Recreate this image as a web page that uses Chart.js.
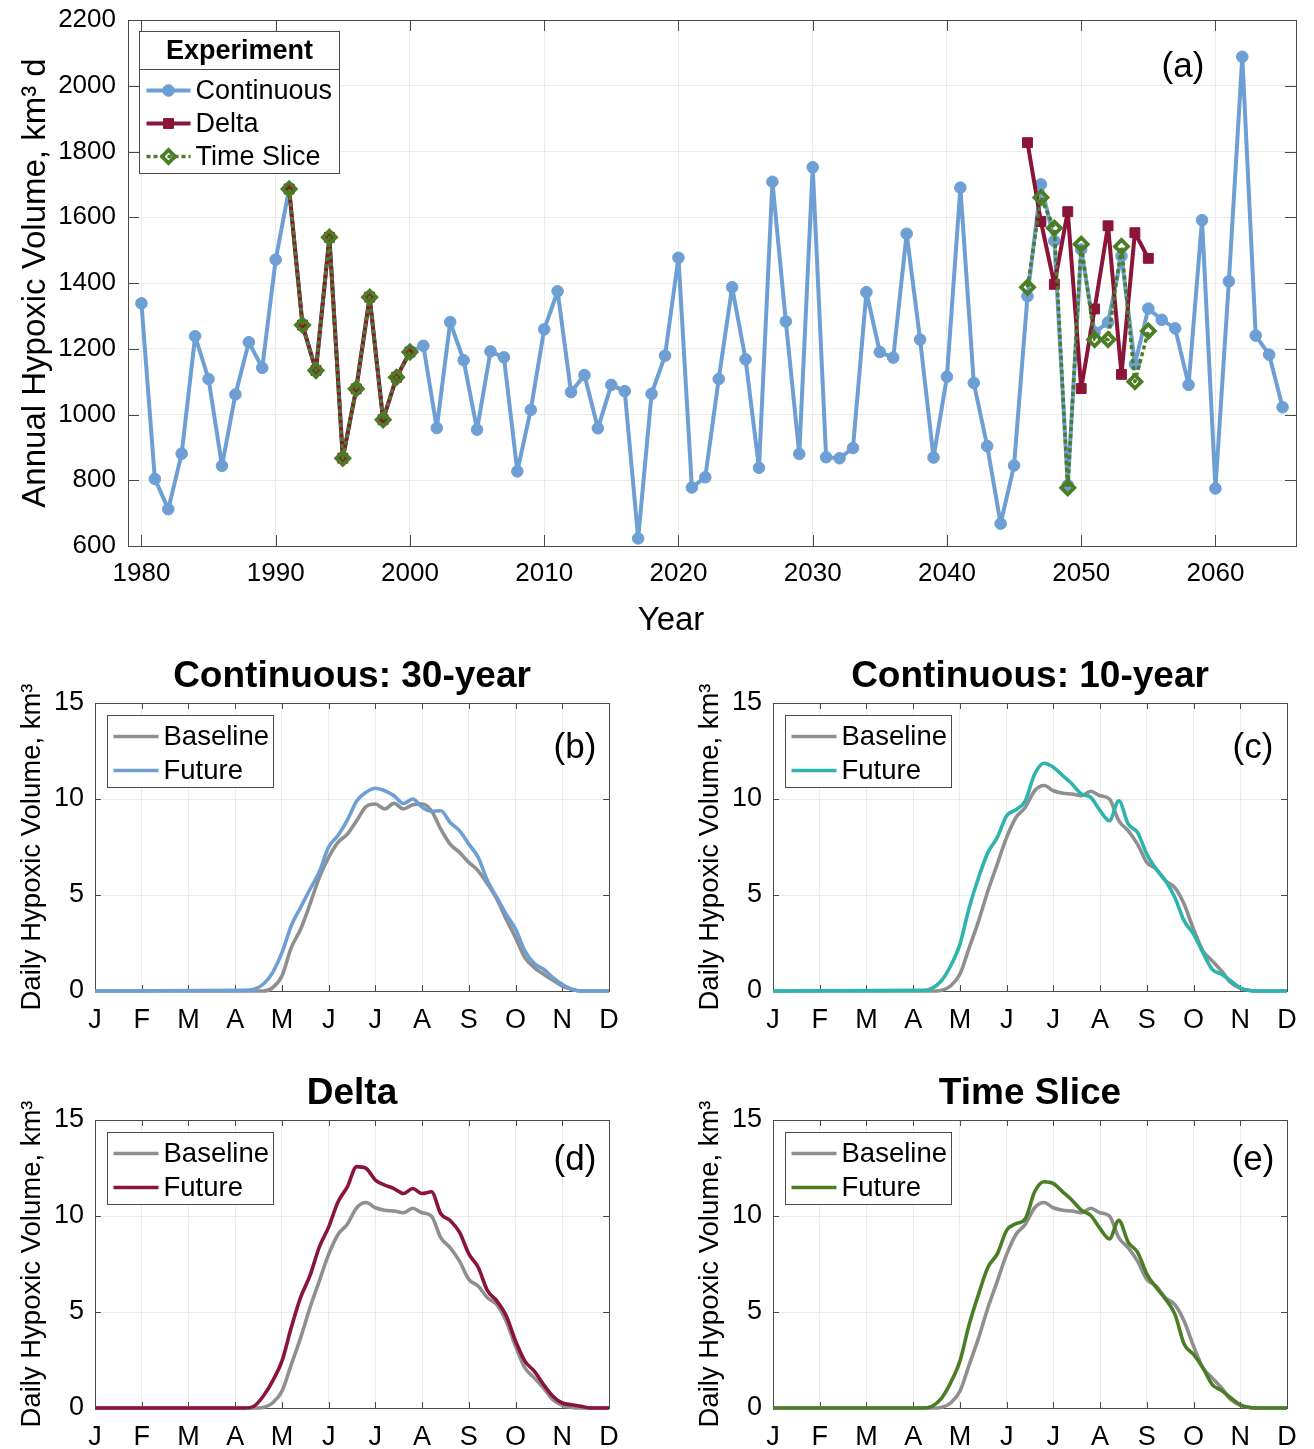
<!DOCTYPE html>
<html>
<head>
<meta charset="utf-8">
<script src="https://cdn.jsdelivr.net/npm/chart.js@4.4.0/dist/chart.umd.min.js"></script>
<style>
  html, body { margin: 0; padding: 0; background: #fff; overflow: hidden; }
  #wrap { position: relative; width: 1314px; height: 1449px; }
  canvas { position: absolute; }
</style>
</head>
<body>
<div id="wrap">
  <canvas id="annual" width="1314" height="640" style="left:0;top:0;width:1314px;height:640px"></canvas>
  <canvas id="panelB" width="657" height="395" style="left:0;top:650px;width:657px;height:395px"></canvas>
  <canvas id="panelC" width="657" height="395" style="left:657px;top:650px;width:657px;height:395px"></canvas>
  <canvas id="panelD" width="657" height="387" style="left:0;top:1062px;width:657px;height:387px"></canvas>
  <canvas id="panelE" width="657" height="387" style="left:657px;top:1062px;width:657px;height:387px"></canvas>
</div>
<script>
// ---- annual series, panel (a) ----
const YEARS = [1980,1981,1982,1983,1984,1985,1986,1987,1988,1989,
  1990,1991,1992,1993,1994,1995,1996,1997,1998,1999,
  2000,2001,2002,2003,2004,2005,2006,2007,2008,2009,
  2010,2011,2012,2013,2014,2015,2016,2017,2018,2019,
  2020,2021,2022,2023,2024,2025,2026,2027,2028,2029,
  2030,2031,2032,2033,2034,2035,2036,2037,2038,2039,
  2040,2041,2042,2043,2044,2045,2046,2047,2048,2049,
  2050,2051,2052,2053,2054,2055,2056,2057,2058,2059,
  2060,2061,2062,2063,2064,2065];
const CONTINUOUS = [1338,804,712,881,1238,1108,844,1061,1220,1142,
  1471,1686,1272,1134,1539,867,1078,1357,984,1113,
  1190,1209,959,1281,1165,954,1192,1174,827,1014,
  1259,1375,1068,1120,958,1090,1071,623,1063,1179,
  1477,778,809,1108,1387,1168,838,1708,1283,880,
  1752,870,867,898,1372,1190,1173,1550,1228,869,
  1115,1690,1096,904,668,845,1360,1700,1528,785,
  1502,1250,1280,1482,1153,1322,1288,1262,1090,1591,
  775,1405,2088,1240,1182,1022];
const EXP_YEARS = [1991,1992,1993,1994,1995,1996,1997,1998,1999,2000,
  2046,2047,2048,2049,2050,2051,2052,2053,2054,2055];
const DELTA = [1686,1272,1134,1539,867,1078,1357,984,1113,1190,
  1827,1587,1396,1617,1079,1321,1574,1122,1553,1475];
const TIME_SLICE = [1686,1272,1134,1539,867,1078,1357,984,1113,1190,
  1387,1660,1567,777,1518,1228,1228,1511,1100,1254];
const YEAR_TICKS = [1980,1990,2000,2010,2020,2030,2040,2050,2060];
const ANNUAL_TICKS = [600,800,1000,1200,1400,1600,1800,2000,2200];

// ---- daily climatologies, panels (b)-(e); x in month units (0 = J ... 11 = D) ----
const MONTH_LABELS = ['J','F','M','A','M','J','J','A','S','O','N','D'];
const MONTH_POS = [0,3.2,3.4,3.6,3.8,4.0,4.2,4.4,4.6,4.8,5.0,5.2,5.4,5.6,5.8,6.0,6.2,6.4,6.6,6.8,
  7.0,7.2,7.4,7.6,7.8,8.0,8.2,8.4,8.6,8.8,9.0,9.2,9.4,9.6,9.8,10.0,10.2,10.4,10.6,11];
const BASE_30YR = [0,0,0,0,0.17,0.78,2.26,3.22,4.52,5.91,6.96,7.74,8.17,8.87,9.6,9.74,9.48,9.77,9.48,9.7,
  9.74,9.39,8.43,7.65,7.22,6.7,6.26,5.57,4.78,3.74,2.78,1.74,1.22,0.87,0.56,0.26,0.09,0,0,0];
const FUT_30YR = [0,0.03,0.09,0.35,0.96,2.0,3.4,4.35,5.3,6.2,7.5,8.1,8.9,9.9,10.35,10.56,10.43,10.17,9.77,10.0,
  9.57,9.36,9.39,8.78,8.35,7.65,6.96,5.74,4.87,4.0,3.22,2.09,1.43,1.13,0.7,0.35,0.09,0,0,0];
const BASE_10YR = [0,0,0,0.03,0.26,0.87,2.26,3.65,5.22,6.61,8.0,9.04,9.57,10.43,10.7,10.43,10.3,10.26,10.17,10.4,
  10.17,10.0,8.87,8.35,7.65,6.7,6.35,5.74,5.39,4.52,3.22,2.09,1.57,1.04,0.43,0.14,0.03,0,0,0];
const FUT_10YR = [0,0.03,0.14,0.52,1.3,2.43,4.35,5.91,7.22,8.0,9.13,9.44,9.91,11.3,11.86,11.65,11.22,10.78,10.26,10.09,
  9.39,8.87,9.91,8.7,8.26,7.13,6.35,5.74,4.87,3.65,2.96,2.0,1.13,0.87,0.52,0.17,0.03,0,0,0];
const FUT_DELTA = [0,0,0.09,0.61,1.4,2.44,4.19,5.76,6.89,8.38,9.42,10.73,11.52,12.57,12.48,11.87,11.61,11.43,11.17,11.43,
  11.17,11.26,10.12,9.77,9.16,8.03,7.33,6.11,5.58,4.8,3.49,2.44,1.92,1.22,0.61,0.26,0.17,0.09,0,0];
const FUT_SLICE = [0,0,0.09,0.49,1.31,2.44,4.36,5.93,7.33,8.03,9.25,9.6,9.86,11.26,11.78,11.69,11.26,10.82,10.3,10.03,
  9.34,8.81,9.77,8.64,8.12,6.98,6.28,5.67,4.89,3.32,2.79,2.09,1.22,0.91,0.52,0.17,0.03,0,0,0];
const DAILY_TICKS = [0,5,10,15];

const FONT = '"Liberation Sans", Arial, Helvetica, sans-serif';
const INK = '#000';
const AXIS = '#4a4a4a';
const GRID = '#ebebeb';
const BLUE = '#6d9fd5', RED = '#8a1538', GREEN = '#4b7d24', TEAL = '#2db4ad', GRAY = '#8f8f8f';

Chart.defaults.font.family = FONT;
Chart.defaults.color = INK;

const pts = (xs, ys) => xs.map((x, i) => ({ x: x, y: ys[i] }));
// break the line where consecutive years are not adjacent
function withGaps(xs, ys) {
  const out = [];
  xs.forEach((x, i) => {
    if (i > 0 && x - xs[i - 1] > 1) out.push({ x: (x + xs[i - 1]) / 2, y: null });
    out.push({ x: x, y: ys[i] });
  });
  return out;
}

// fixed axis sizes so the plot boxes land where the figure has them
function fixY(width) {
  return s => { s.width = width; s.paddingTop = 0; s.paddingBottom = 0; };
}
function fixX(height) {
  return s => { s.height = height; s.paddingLeft = 0; s.paddingRight = 0; };
}

function drawLegend(chart, lg) {
  const { ctx, chartArea: a } = chart;
  const x0 = Math.round(a.left + lg.dx) + 0.5, y0 = Math.round(a.top + lg.dy) + 0.5;
  ctx.fillStyle = '#fff';
  ctx.fillRect(x0, y0, lg.w, lg.h);
  ctx.strokeStyle = AXIS; ctx.lineWidth = 1; ctx.setLineDash([]);
  ctx.strokeRect(x0, y0, lg.w, lg.h);
  ctx.textBaseline = 'middle';
  if (lg.heading) {
    ctx.font = `bold ${lg.size}px ${FONT}`;
    ctx.fillStyle = INK; ctx.textAlign = 'center';
    ctx.fillText(lg.heading, x0 + lg.w / 2, y0 + lg.headH / 2 + 1);
    ctx.beginPath(); ctx.moveTo(x0, y0 + lg.headH); ctx.lineTo(x0 + lg.w, y0 + lg.headH); ctx.stroke();
  }
  chart.data.datasets.forEach((ds, i) => {
    const yy = y0 + lg.firstRow + i * lg.rowStep;
    ctx.save();
    ctx.strokeStyle = ds.borderColor; ctx.lineWidth = ds.borderWidth;
    ctx.setLineDash(ds.borderDash || []);
    ctx.beginPath(); ctx.moveTo(x0 + lg.lineFrom, yy); ctx.lineTo(x0 + lg.lineTo, yy); ctx.stroke();
    ctx.setLineDash([]);
    if (ds.pointRadius > 0) {
      ctx.fillStyle = ds.backgroundColor; ctx.strokeStyle = ds.borderColor;
      ctx.lineWidth = ds.pointBorderWidth || 1;
      Chart.helpers.drawPoint(ctx, { pointStyle: ds.pointStyle, rotation: 0, radius: ds.pointRadius, borderWidth: ds.pointBorderWidth || 1 },
        x0 + (lg.lineFrom + lg.lineTo) / 2, yy);
    }
    ctx.restore();
    ctx.font = `${lg.size}px ${FONT}`; ctx.fillStyle = INK; ctx.textAlign = 'left';
    ctx.fillText(ds.label, x0 + lg.textX, yy + 1);
  });
}

// box with inward ticks, panel title, panel letter and legend
const framePlugin = {
  id: 'frame',
  beforeDatasetsDraw(chart, args, o) {
    const { ctx, chartArea: a } = chart;
    const xs = chart.scales.x, ys = chart.scales.y;
    ctx.save();
    ctx.strokeStyle = AXIS; ctx.lineWidth = 1;
    ctx.beginPath();
    xs.ticks.forEach(t => {
      const p = Math.round(xs.getPixelForValue(t.value)) + 0.5;
      ctx.moveTo(p, a.bottom); ctx.lineTo(p, a.bottom - o.tickLen);
      ctx.moveTo(p, a.top); ctx.lineTo(p, a.top + o.tickLen);
    });
    ys.ticks.forEach(t => {
      const p = Math.round(ys.getPixelForValue(t.value)) + 0.5;
      ctx.moveTo(a.left, p); ctx.lineTo(a.left + o.tickLen, p);
      ctx.moveTo(a.right, p); ctx.lineTo(a.right - o.tickLen, p);
    });
    ctx.stroke();
    ctx.strokeRect(Math.round(a.left) + 0.5, Math.round(a.top) + 0.5, Math.round(a.width), Math.round(a.height));
    ctx.restore();
  },
  afterDraw(chart, args, o) {
    const { ctx, chartArea: a } = chart;
    ctx.save();
    ctx.fillStyle = INK; ctx.textBaseline = 'middle'; ctx.textAlign = 'center';
    if (o.title) {
      ctx.font = `bold ${o.titleSize}px ${FONT}`;
      ctx.fillText(o.title, (a.left + a.right) / 2, a.top - o.titleGap);
    }
    if (o.xTitle) {
      ctx.font = `${o.xTitleSize}px ${FONT}`;
      ctx.fillText(o.xTitle, (a.left + a.right) / 2 + o.xTitleDx, a.bottom + o.xTitleDy);
    }
    if (o.label) {
      ctx.font = `${o.labelSize}px ${FONT}`;
      ctx.fillText(o.label, a.right - o.labelDx, a.top + o.labelDy);
    }
    if (o.legend) drawLegend(chart, o.legend);
    ctx.restore();
  }
};

// ---- (a) annual hypoxic volume ----
new Chart(document.getElementById('annual'), {
  type: 'line',
  data: {
    datasets: [
      { label: 'Continuous', data: pts(YEARS, CONTINUOUS), borderColor: BLUE, backgroundColor: BLUE,
        borderWidth: 4, borderJoinStyle: 'round', pointStyle: 'circle', pointRadius: 5.8, pointBorderWidth: 1, order: 3 },
      { label: 'Delta', data: withGaps(EXP_YEARS, DELTA), borderColor: RED, backgroundColor: RED,
        borderWidth: 4, borderJoinStyle: 'round', pointStyle: 'rect', pointRadius: 7, pointBorderWidth: 1, order: 2 },
      { label: 'Time Slice', data: withGaps(EXP_YEARS, TIME_SLICE), borderColor: GREEN, backgroundColor: 'rgba(255,255,255,0)',
        borderWidth: 3.5, borderDash: [4, 3], borderJoinStyle: 'round', pointStyle: 'rectRot', pointRadius: 6.5, pointBorderWidth: 3.8, order: 1 }
    ]
  },
  options: {
    responsive: false, animation: false, devicePixelRatio: 1,
    layout: { padding: { top: 20, right: 18, left: 0, bottom: 0 } },
    plugins: {
      legend: { display: false }, tooltip: { enabled: false },
      frame: {
        tickLen: 11, label: '(a)', labelSize: 35, labelDx: 113, labelDy: 47,
        xTitle: 'Year', xTitleSize: 33, xTitleDx: -41, xTitleDy: 75,
        legend: { heading: 'Experiment', dx: 11, dy: 11, w: 200, h: 142, headH: 38, firstRow: 59, rowStep: 33,
                  lineFrom: 7, lineTo: 51, textX: 56, size: 27 }
      }
    },
    scales: {
      x: {
        type: 'linear', min: 1979, max: 2066,
        afterBuildTicks: s => { s.ticks = YEAR_TICKS.map(v => ({ value: v })); },
        afterFit: fixX(94),
        grid: { color: GRID, drawTicks: false }, border: { display: false },
        ticks: { font: { size: 26 }, color: INK, padding: 12, maxRotation: 0, autoSkip: false, callback: v => String(v) }
      },
      y: {
        min: 600, max: 2200,
        afterBuildTicks: s => { s.ticks = ANNUAL_TICKS.map(v => ({ value: v })); },
        afterFit: fixY(128),
        grid: { color: GRID, drawTicks: false }, border: { display: false },
        ticks: { font: { size: 26 }, color: INK, padding: 12, autoSkip: false, callback: v => String(v) },
        title: { display: true, text: 'Annual Hypoxic Volume, km³ d', font: { size: 33 }, color: INK, padding: { top: 16, bottom: 0 } }
      }
    }
  },
  plugins: [framePlugin]
});

// ---- (b)-(e) daily climatologies ----
function dailyPanel(id, p) {
  return new Chart(document.getElementById(id), {
    type: 'line',
    data: {
      datasets: [
        { label: 'Baseline', data: pts(MONTH_POS, p.base), borderColor: GRAY, backgroundColor: GRAY,
          borderWidth: 3.6, pointRadius: 0, cubicInterpolationMode: 'monotone', clip: false, order: 2 },
        { label: 'Future', data: pts(MONTH_POS, p.future), borderColor: p.color, backgroundColor: p.color,
          borderWidth: 3.6, pointRadius: 0, cubicInterpolationMode: 'monotone', clip: false, order: 1 }
      ]
    },
    options: {
      responsive: false, animation: false, devicePixelRatio: 1,
      layout: { padding: { top: p.top, right: p.right, left: 0, bottom: 0 } },
      plugins: {
        legend: { display: false }, tooltip: { enabled: false },
        frame: {
          tickLen: 6, title: p.title, titleSize: 37, titleGap: 26,
          label: p.label, labelSize: 35, labelDx: 34, labelDy: p.labelDy,
          legend: { dx: 12, dy: 12, w: 166, h: 72, firstRow: 21, rowStep: 34, lineFrom: 6, lineTo: 51, textX: 56, size: 27.5 }
        }
      },
      scales: {
        x: {
          type: 'linear', min: 0, max: 11,
          afterBuildTicks: s => { s.ticks = MONTH_LABELS.map((m, i) => ({ value: i })); },
          afterFit: fixX(p.xHeight),
          grid: { color: GRID, drawTicks: false }, border: { display: false },
          ticks: { font: { size: 27 }, color: INK, padding: 13, maxRotation: 0, autoSkip: false, callback: v => MONTH_LABELS[v] }
        },
        y: {
          min: 0, max: 15,
          afterBuildTicks: s => { s.ticks = DAILY_TICKS.map(v => ({ value: v })); },
          afterFit: fixY(p.yWidth),
          grid: { color: GRID, drawTicks: false }, border: { display: false },
          ticks: { font: { size: 27 }, color: INK, padding: 11, autoSkip: false, callback: v => String(v) },
          title: { display: true, text: 'Daily Hypoxic Volume, km³', font: { size: 27.5 }, color: INK, padding: { top: p.titlePad, bottom: 0 } }
        }
      }
    },
    plugins: [framePlugin]
  });
}

dailyPanel('panelB', { title: 'Continuous: 30-year', label: '(b)', base: BASE_30YR, future: FUT_30YR, color: BLUE,
  top: 53, right: 48, yWidth: 95, xHeight: 54, titlePad: 16, labelDy: 45 });
dailyPanel('panelC', { title: 'Continuous: 10-year', label: '(c)', base: BASE_10YR, future: FUT_10YR, color: TEAL,
  top: 53, right: 27, yWidth: 116, xHeight: 54, titlePad: 37, labelDy: 45 });
dailyPanel('panelD', { title: 'Delta', label: '(d)', base: BASE_10YR, future: FUT_DELTA, color: RED,
  top: 58, right: 48, yWidth: 95, xHeight: 41, titlePad: 16, labelDy: 40 });
dailyPanel('panelE', { title: 'Time Slice', label: '(e)', base: BASE_10YR, future: FUT_SLICE, color: GREEN,
  top: 58, right: 27, yWidth: 116, xHeight: 41, titlePad: 37, labelDy: 40 });
</script>
</body>
</html>
